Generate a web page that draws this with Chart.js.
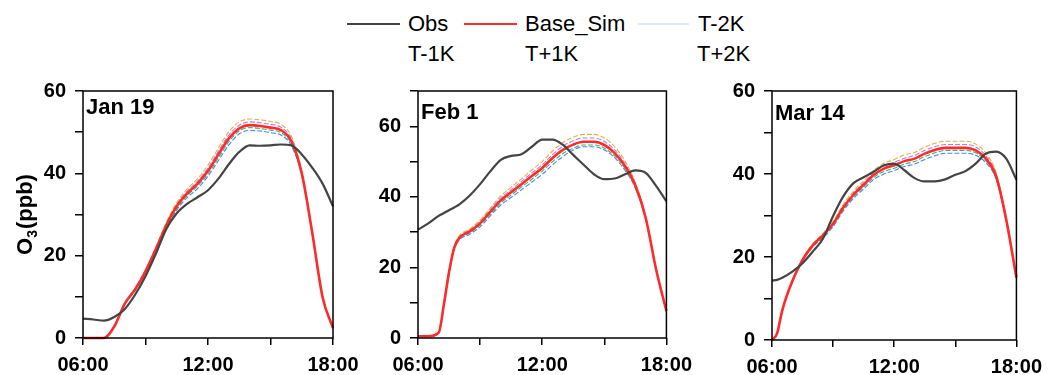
<!DOCTYPE html>
<html>
<head>
<meta charset="utf-8">
<script src="https://cdn.jsdelivr.net/npm/chart.js@4.4.0/dist/chart.umd.min.js"></script>
<style>
  body { margin: 0; background: #fff; width: 1050px; height: 375px; position: relative; overflow: hidden; font-family: "Liberation Sans", Arial, sans-serif; }
  canvas { position: absolute; top: 70px; }
  .lg { position: absolute; font-size: 22px; line-height: 22px; color: #000; white-space: nowrap; }
  .sw { position: absolute; height: 0; border-top: 2px solid; }
</style>
</head>
<body>
<!-- legend: 3 columns, 2 rows, only the first row has line samples -->
<div class="sw" style="left:347px; top:23px; width:53px; border-color:#444;"></div>
<div class="lg" style="left:408px; top:13px;">Obs</div>
<div class="sw" style="left:464px; top:23px; width:53px; border-color:#ff2a2a;"></div>
<div class="lg" style="left:525px; top:13px;">Base_Sim</div>
<div class="sw" style="left:638px; top:23px; width:51px; border-color:#e2e9f6;"></div>
<div class="lg" style="left:698px; top:13px;">T-2K</div>
<div class="lg" style="left:408px; top:43px;">T-1K</div>
<div class="lg" style="left:525px; top:43px;">T+1K</div>
<div class="lg" style="left:697px; top:43px;">T+2K</div>

<canvas id="c1" width="370" height="305" style="left:0px;"></canvas>
<canvas id="c2" width="360" height="305" style="left:340px;"></canvas>
<canvas id="c3" width="360" height="305" style="left:690px;"></canvas>

<script>
// ---- data (hours of day, O3 in ppb) ----
const xTickValues = [6, 9, 12, 15, 18];
const xTickLabels = ['06:00', '', '12:00', '', '18:00'];
const yTickLabelStep = 20;
const panelNames = ['Jan 19', 'Feb 1', 'Mar 14'];
const yMaxes = [60, 70, 60];

// Jan 19
const hours1 = [6,6.5,7,7.5,8,8.5,9,9.5,10,10.5,11,11.5,12,12.5,13,13.5,14,14.5,15,15.5,16,16.5,17,17.5,18];
const obs1   = [4.7,4.5,4.2,5.1,7.0,10.5,15.0,20.5,26.5,30.3,32.6,34.2,35.9,38.7,42.2,45.2,46.8,46.7,46.8,47.0,46.8,44.6,41.4,37.5,32.0];
const base1  = [0,0,0,2.8,8.3,11.8,16.2,21.6,27.4,32.0,35.1,37.5,40.6,44.6,48.5,50.9,51.7,51.5,51.1,50.5,47.8,40.0,25.7,9.9,2.4];
const tm2_1  = [0,0,0,2.7,8.1,11.5,15.8,21.0,26.7,31.1,34.1,36.3,39.3,43.1,46.9,49.6,50.4,50.3,49.9,49.3,46.7,39.5,25.5,9.8,2.4];
const tm1_1  = [0,0,0,2.8,8.2,11.6,16.0,21.3,27.0,31.5,34.6,36.9,39.9,43.8,47.7,50.3,51.1,50.9,50.5,49.9,47.2,39.8,25.6,9.9,2.4];
const tp1_1  = [0,0,0,2.9,8.4,12.0,16.4,21.9,27.8,32.5,35.7,38.1,41.3,45.4,49.3,51.7,52.5,52.3,51.9,51.2,48.4,40.3,25.8,10.0,2.4];
const tp2_1  = [0,0,0,2.9,8.5,12.1,16.6,22.1,28.1,32.9,36.2,38.7,42.0,46.2,50.1,52.5,53.2,53.0,52.6,51.9,49.0,40.6,25.9,10.0,2.4];

// Feb 1
const hours2 = [6,6.5,7,7.25,7.5,7.75,8,8.5,9,9.5,10,10.5,11,11.5,12,12.5,13,13.5,14,14.5,15,15.5,16,16.5,17,17.5,18];
const obs2   = [30.7,32.5,34.6,35.4,36.2,37.0,37.9,40.4,43.6,47.3,50.5,51.6,52.1,54.2,56.2,56.2,54.7,51.9,49.1,46.4,45.0,45.2,46.4,47.5,46.8,43.1,38.7];
const base2  = [0.5,0.5,1.5,9.5,18.7,25.6,28.4,30.2,32.5,35.8,39.0,41.3,43.6,45.9,48.2,51.0,53.3,54.8,55.6,55.6,54.7,52.4,48.7,43.2,34.0,19.5,7.6];
const tm2_2  = [0.5,0.5,1.5,9.3,18.4,25.2,27.8,29.4,31.5,34.7,37.7,39.8,42.0,44.2,46.4,49.1,51.4,53.3,54.2,54.2,53.3,51.1,47.5,42.5,33.6,19.3,7.6];
const tm1_2  = [0.5,0.5,1.5,9.4,18.5,25.4,28.1,29.8,32.0,35.2,38.3,40.5,42.8,45.0,47.3,50.0,52.3,53.8,54.7,54.7,53.8,51.6,48.0,42.8,33.8,19.4,7.6];
const tp1_2  = [0.5,0.5,1.5,9.6,18.9,25.8,28.7,30.6,33.0,36.4,39.7,42.0,44.4,46.8,49.1,52.0,54.4,55.9,56.7,56.7,55.7,53.3,49.4,43.6,34.2,19.5,7.6];
const tp2_2  = [0.5,0.5,1.5,9.6,19.0,26.0,29.0,30.9,33.4,36.9,40.3,42.7,45.1,47.6,50.0,53.0,55.4,56.9,57.7,57.7,56.7,54.2,50.1,44.0,34.4,19.6,7.6];

// Mar 14
const hours3 = [6,6.25,6.5,7,7.5,8,8.5,9,9.5,10,10.5,11,11.5,12,12.5,13,13.5,14,14.5,15,15.5,16,16.5,17,17.5,18];
const obs3   = [14.3,14.5,15.0,16.5,18.5,21.3,24.4,29.9,34.6,37.8,39.2,40.6,42.1,42.5,40.9,39.0,38.2,38.2,38.7,39.8,40.7,42.5,44.9,45.4,43.7,38.6];
const base3  = [0,1.6,7.1,14.2,19.3,22.8,25.2,28.0,31.9,35.0,37.4,39.8,41.3,42.1,43.1,43.7,44.9,45.8,46.3,46.3,46.3,45.7,43.7,39.5,29.0,15.0];
const tm2_3  = [0,1.6,7.0,14.0,19.0,22.4,24.6,27.3,31.1,34.1,36.4,38.7,40.0,40.8,41.8,42.4,43.5,44.4,45.0,45.0,45.0,44.5,42.7,38.8,28.6,15.0];
const tm1_3  = [0,1.6,7.0,14.1,19.1,22.6,24.9,27.7,31.5,34.5,36.9,39.2,40.6,41.4,42.4,43.0,44.2,45.1,45.7,45.7,45.7,45.1,43.2,39.1,28.8,15.0];
const tp1_3  = [0,1.6,7.2,14.3,19.5,23.0,25.5,28.3,32.3,35.5,37.9,40.4,41.9,42.8,43.8,44.5,45.7,46.6,47.1,47.1,47.1,46.5,44.4,40.0,29.2,15.0];
const tp2_3  = [0,1.6,7.2,14.4,19.6,23.2,25.7,28.6,32.7,35.9,38.4,40.9,42.6,43.5,44.6,45.2,46.5,47.4,47.9,47.9,47.9,47.2,45.0,40.4,29.4,15.0];

// ---- layout per panel (y-axis width, paddings, x-axis height, label offset) ----
const layouts = [
  { yW: 83, top: 15, right: 37, xH: 37, labelDy: 23, yTitle: true },
  { yW: 78, top: 14, right: 32, xH: 37, labelDy: 28, yTitle: false },
  { yW: 82, top: 16, right: 29, xH: 35, labelDy: 29, yTitle: false }
];

const FONT = '"Liberation Sans", Arial, sans-serif';

// frame box, panel name, y title with subscript
const panelDeco = {
  id: 'panelDeco',
  afterDraw(chart, args, opts) {
    const { ctx, chartArea: a } = chart;
    ctx.save();
    ctx.strokeStyle = '#000';
    ctx.lineWidth = 1.5;
    ctx.strokeRect(a.left, a.top, a.right - a.left, a.bottom - a.top);

    ctx.fillStyle = '#000';
    ctx.font = 'bold 22px ' + FONT;
    ctx.textBaseline = 'alphabetic';
    ctx.textAlign = 'left';
    ctx.fillText(opts.label, a.left + 3, a.top + opts.labelDy);

    if (opts.yTitle) {
      ctx.translate(24, (a.top + a.bottom) / 2);
      ctx.rotate(-Math.PI / 2);
      const big = 'bold 22px ' + FONT, small = 'bold 14px ' + FONT;
      ctx.font = big;
      const wO = ctx.measureText('O').width;
      const wP = ctx.measureText('(ppb)').width;
      ctx.font = small;
      const w3 = ctx.measureText('3').width + 1;
      let x = -(wO + w3 + wP) / 2;
      const b = 8;
      ctx.font = big;
      ctx.fillText('O', x, b);
      x += wO;
      ctx.font = small;
      ctx.fillText('3', x, b + 5);
      x += w3;
      ctx.font = big;
      ctx.fillText('(ppb)', x, b);
    }
    ctx.restore();
  }
};

function pts(hours, vals) {
  return vals.map((v, i) => ({ x: hours[i], y: v }));
}

function simLine(label, hours, vals, color) {
  return {
    label, data: pts(hours, vals), borderColor: color, borderWidth: 1.1,
    borderDash: [5, 2], pointRadius: 0, cubicInterpolationMode: 'monotone', clip: false
  };
}

function makePanel(id, idx, hours, obs, base, tm2, tm1, tp1, tp2) {
  const L = layouts[idx];
  new Chart(document.getElementById(id), {
    type: 'line',
    data: {
      datasets: [
        { label: 'Obs', data: pts(hours, obs), borderColor: '#444444', borderWidth: 2.2,
          pointRadius: 0, cubicInterpolationMode: 'monotone', clip: false },
        { label: 'Base_Sim', data: pts(hours, base), borderColor: '#ff2a2a', borderWidth: 2.6,
          pointRadius: 0, cubicInterpolationMode: 'monotone', clip: false },
        simLine('T+2K', hours, tp2, 'rgba(225,165,50,0.9)'),
        simLine('T+1K', hours, tp1, 'rgba(175,110,225,0.9)'),
        simLine('T-1K', hours, tm1, 'rgba(50,165,95,0.9)'),
        simLine('T-2K', hours, tm2, 'rgba(45,125,230,0.9)')
      ]
    },
    options: {
      responsive: false,
      animation: false,
      events: [],
      layout: { autoPadding: false, padding: { left: 0, top: L.top, right: L.right, bottom: 0 } },
      plugins: {
        legend: { display: false },
        tooltip: { enabled: false },
        panelDeco: { label: panelNames[idx], labelDy: L.labelDy, yTitle: L.yTitle }
      },
      scales: {
        x: {
          type: 'linear', min: 6, max: 18,
          afterFit: s => { s.height = L.xH; },
          afterBuildTicks: s => { s.ticks = xTickValues.map(v => ({ value: v })); },
          border: { display: false },
          grid: { display: true, drawOnChartArea: false, drawTicks: true, tickLength: 7, color: '#000', lineWidth: 1.5 },
          ticks: {
            autoSkip: false, maxRotation: 0, padding: 8, color: '#000',
            font: { family: FONT, size: 20, weight: 'bold' },
            callback: (v, i) => xTickLabels[i]
          }
        },
        y: {
          min: 0, max: yMaxes[idx],
          afterFit: s => { s.width = L.yW; },
          border: { display: false },
          grid: { display: true, drawOnChartArea: false, drawTicks: true, tickLength: 8, color: '#000', lineWidth: 1.5 },
          ticks: {
            stepSize: 10, padding: 9, color: '#000',
            font: { family: FONT, size: 20, weight: 'bold' },
            callback: v => (v % yTickLabelStep === 0 ? v : '')
          }
        }
      }
    },
    plugins: [panelDeco]
  });
}

makePanel('c1', 0, hours1, obs1, base1, tm2_1, tm1_1, tp1_1, tp2_1);
makePanel('c2', 1, hours2, obs2, base2, tm2_2, tm1_2, tp1_2, tp2_2);
makePanel('c3', 2, hours3, obs3, base3, tm2_3, tm1_3, tp1_3, tp2_3);
</script>
</body>
</html>
